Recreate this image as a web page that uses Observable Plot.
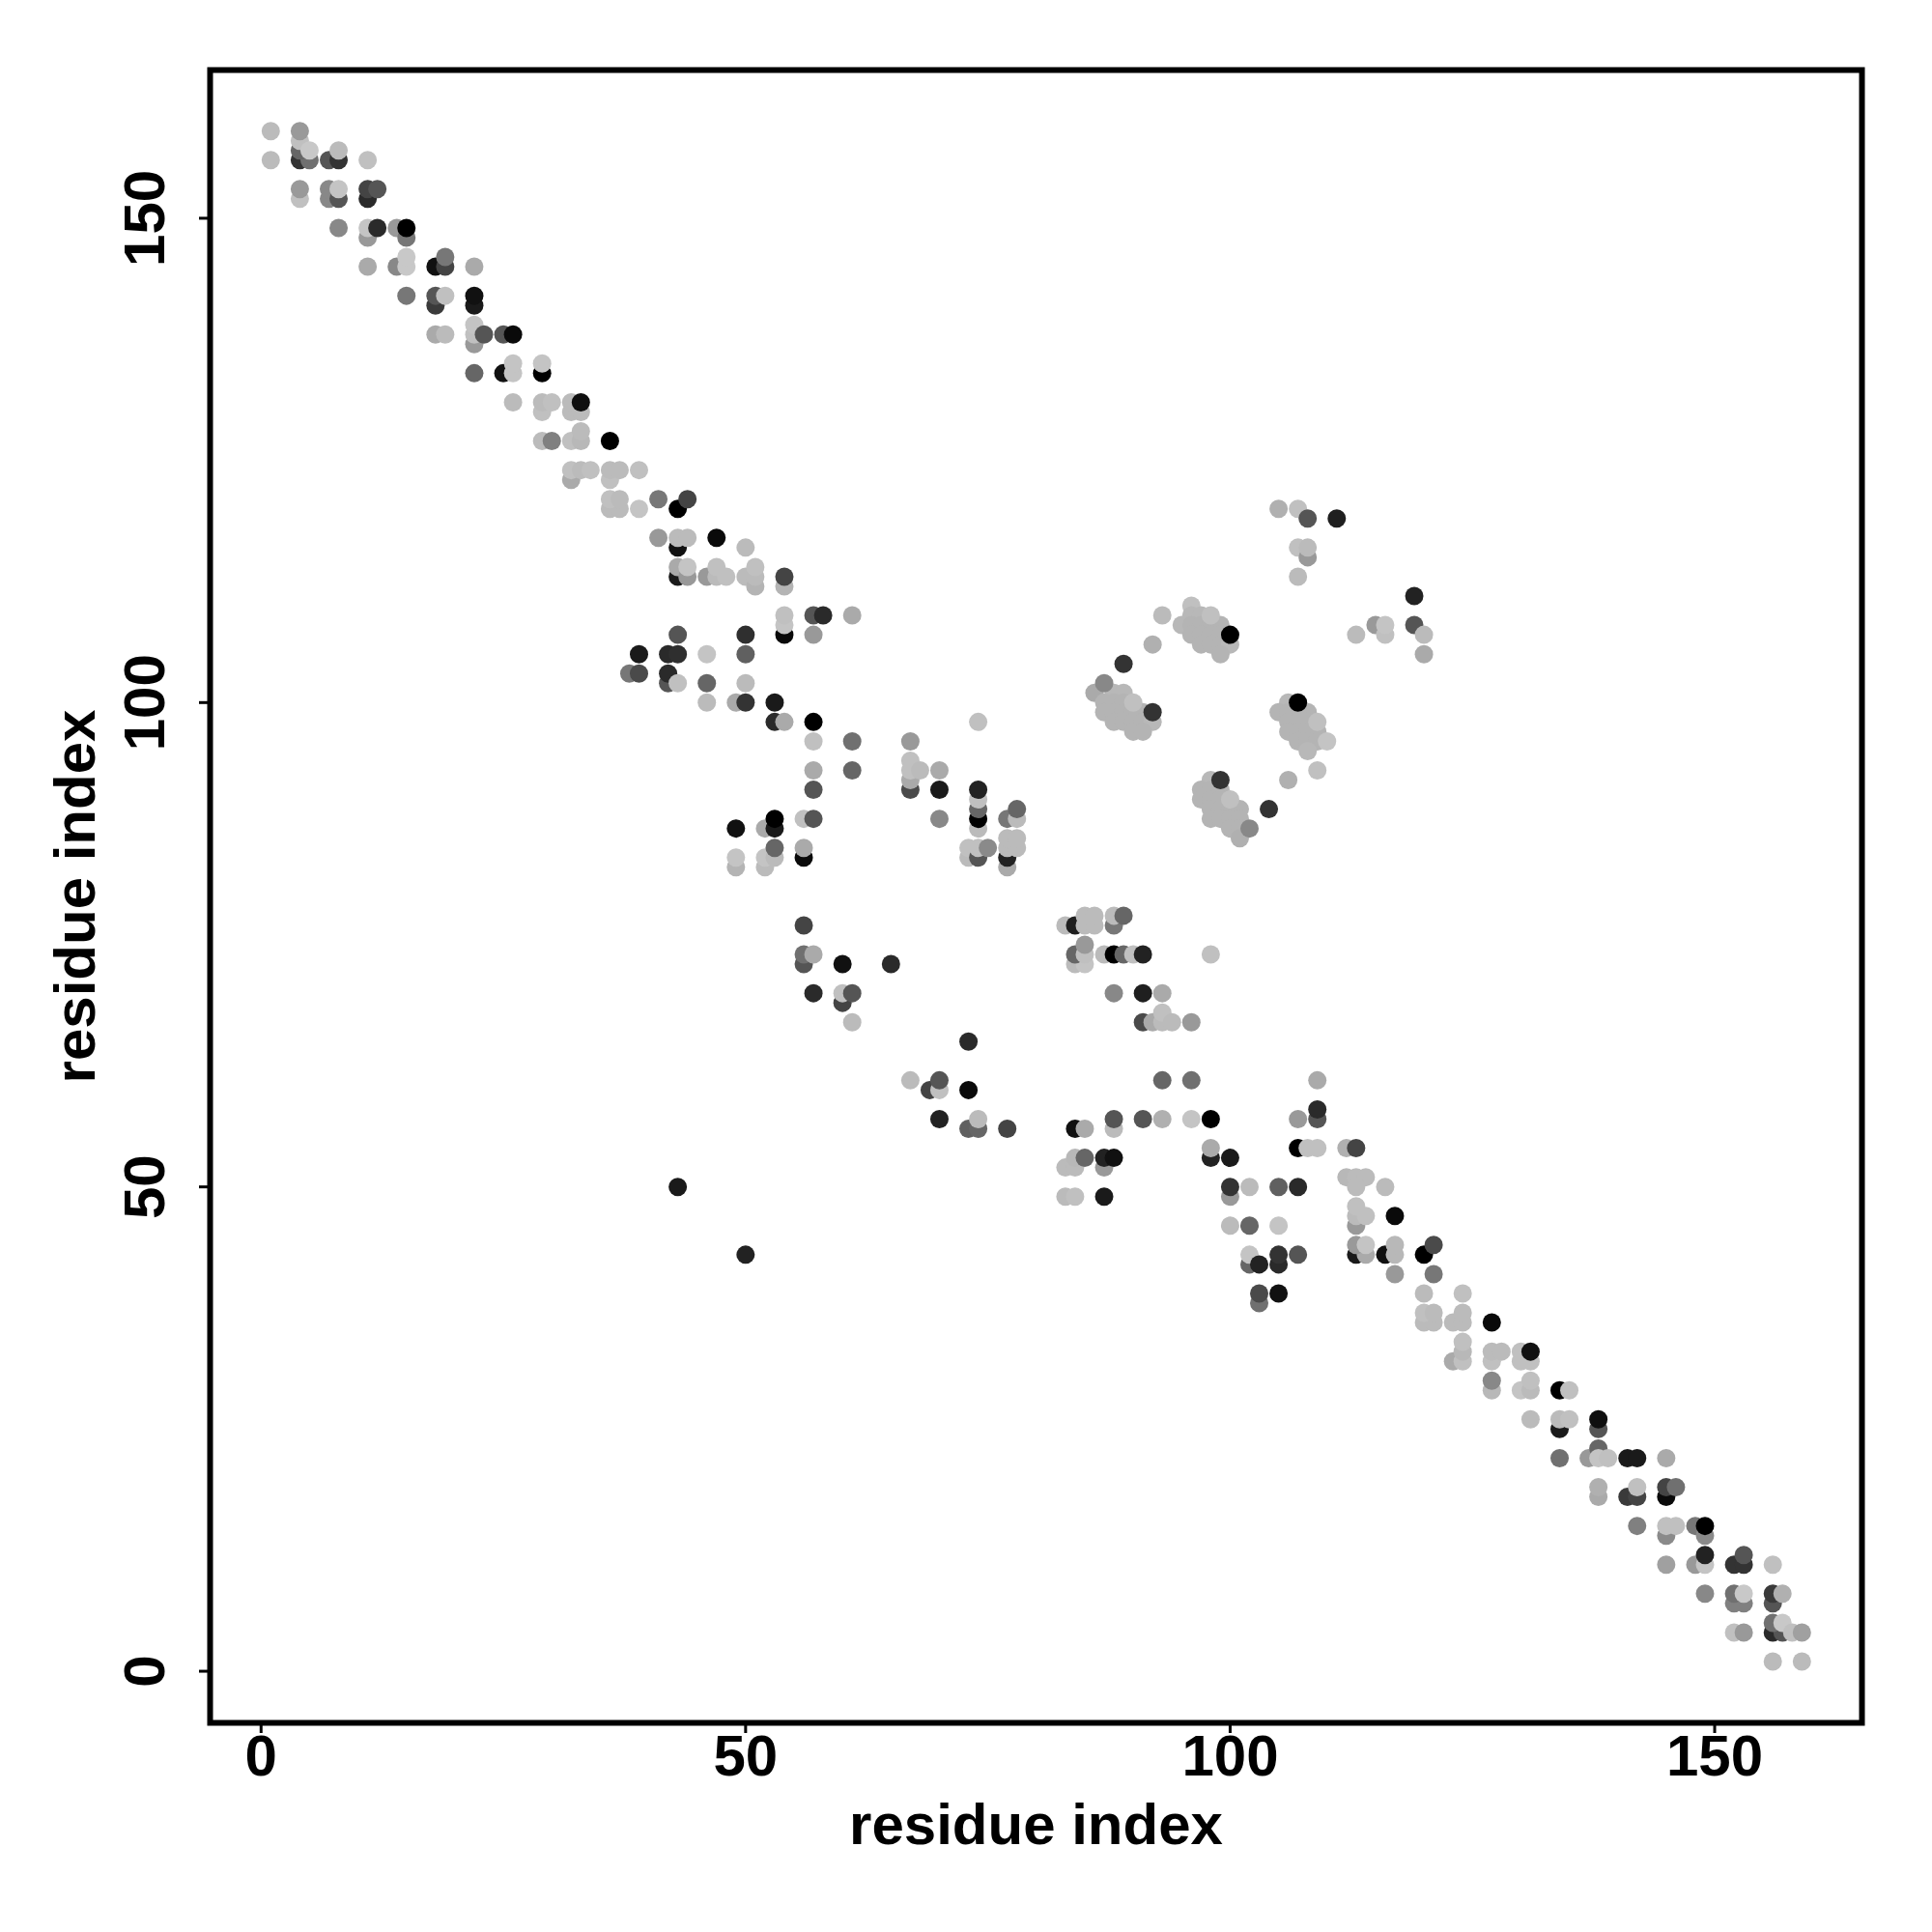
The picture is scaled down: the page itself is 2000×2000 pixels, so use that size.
<!DOCTYPE html>
<html>
<head>
<meta charset="utf-8">
<script src="https://cdn.jsdelivr.net/npm/d3@7"></script>
<script src="https://cdn.jsdelivr.net/npm/@observablehq/plot@0.6"></script>
<style>html,body{margin:0;padding:0;background:#fff}svg{display:block}</style>
</head>
<body>
<div id="chart"></div>
<script>
// each contact: [residue i, residue j, grey level 0-255]; later entries paint on top
const upperDiagonal = [
[1,159,187],[1,156,187],[4,156,51],[5,156,112],[4,157,102],[4,158,192],[4,159,153],[5,157,200],[7,156,85],[8,156,51],[8,157,187],[11,156,192],
[4,152,192],[4,153,153],[7,152,136],[7,153,136],[8,152,85],[8,153,196],[11,152,42],[11,153,68],[12,153,85],
[8,149,136],[11,148,153],[11,149,196],[12,149,42],[14,149,153],[15,148,119],[15,149,0],
[11,145,170],[14,145,136],[15,145,200],[15,146,200],[18,145,17],[19,145,68],[19,146,119],[22,145,170],
[15,142,119],[18,141,58],[18,142,85],[19,142,192],[22,141,26],[22,142,17],
[18,138,170],[19,138,187],[22,137,153],[22,138,192],[22,139,196],[23,138,85],[25,138,85],[26,138,10],
[22,134,102],[25,134,17],[26,134,196],[26,135,196],[29,134,0],[29,135,196],
[26,131,187],[29,130,192],[29,131,187],[30,131,192],[32,130,187],[32,131,187],[33,130,187],[33,131,15],
[29,127,187],[30,127,128],[32,127,192],[33,127,184],[33,128,187],[36,127,0],
[32,123,170],[32,124,192],[33,124,187],[34,124,192],[36,123,192],[36,124,187],[37,124,187],[39,124,192],
[36,120,187],[37,120,187],[36,121,192],[37,121,187],[39,120,196],[41,121,119],[43,120,0],[44,121,68]
];
const upperMiddle = [
[41,117,153],[43,116,17],[43,117,187],[44,117,187],[47,117,10],[50,116,187],
[43,113,26],[43,114,170],[44,113,153],[44,114,196],[46,113,153],[47,113,187],[47,114,192],[48,113,192],[50,113,187],[51,112,180],[51,113,187],[51,114,192],[54,112,180],[54,113,68],
[54,107,10],[54,108,196],[54,109,192],[57,107,153],[57,109,85],[58,109,42],[61,109,170],
[43,107,85],[50,107,47],[39,105,26],[42,105,42],[43,105,47],[46,105,196],[50,105,96],
[38,103,119],[39,103,74],[42,102,85],[42,103,42],[43,102,192],[46,102,102],[50,102,187],
[46,100,187],[49,100,170],[50,100,51],[53,100,26],[53,98,42],[54,98,170],[57,98,0],
[57,96,192],[61,96,112],[67,96,153],[57,93,170],[61,93,102],[57,91,85],
[67,91,74],[67,92,170],[67,93,192],[67,94,192],[68,93,187],[70,93,170],[70,91,26],[70,88,136],
[74,87,187],[74,88,0],[74,89,102],[74,90,192],[74,91,34],
[77,88,119],[78,88,187],[78,89,102],[77,83,170],[77,84,34],[77,85,187],[78,85,187],[77,86,187],[78,86,187],
[73,84,187],[73,85,192],[74,84,85],[74,85,192],[75,85,138],
[49,83,180],[49,84,196],[52,83,187],[52,84,196],[53,84,187],[53,85,102],[56,84,10],[56,85,170],
[49,87,17],[52,87,170],[53,87,26],[53,88,0],[56,88,192],[57,88,85],[74,98,192]
];
const offDiagonalLow = [
[56,77,68],[56,73,85],[56,74,112],[57,74,170],[60,73,17],[65,73,42],[57,70,42],[60,69,68],[60,70,192],[61,70,85],[61,67,187],[73,65,42],
[67,61,187],[69,60,68],[70,60,192],[70,61,85],[73,60,10],[70,57,34],[73,56,96],[74,56,102],[74,57,187],[77,56,68],[43,50,26],[50,43,34]
];
const centreBand = [
[83,77,187],[84,77,31],[85,77,187],[86,77,187],[85,78,187],[86,78,187],[88,77,119],[88,78,187],[89,78,102],
[84,73,187],[85,73,196],[84,74,102],[85,74,192],[85,75,153],
[87,74,187],[88,74,0],[89,74,102],[90,74,192],[91,74,34],[98,74,192],
[88,70,136],[91,70,31],[93,70,170],[91,67,74],[92,67,170],[93,67,187],[93,68,192],[94,67,187],[96,67,153],
[93,61,102],[96,61,112],[109,61,170],
[84,56,17],[85,56,170],[88,56,187],[88,57,85],[91,57,85],[93,57,176],[96,57,196],[98,57,0],
[107,57,153],[109,57,85],[109,58,42],[107,54,0],[108,54,192],[109,54,192],[112,54,176],[113,54,68],
[83,52,187],[84,52,187],[87,52,153],[84,53,184],[85,53,102],[87,53,34],[88,53,17],
[98,53,34],[98,54,170],[100,53,26],
[83,49,187],[84,49,192],[87,49,26],[100,49,153],[100,50,51],[102,50,187],[105,50,96],[107,50,42]
];
const lowerDiagonal = [
[112,51,184],[113,51,187],[114,51,187],[113,50,187],[116,50,187],
[113,46,153],[113,47,187],[113,48,192],[114,47,192],[117,47,10],
[100,46,187],[102,46,102],[105,46,196],
[113,43,26],[114,43,170],[113,44,153],[114,44,196],[116,43,17],[117,43,184],[117,44,184],[117,41,153],
[102,42,102],[102,43,196],[103,42,34],[105,42,42],[105,43,51],[107,43,85],
[103,38,112],[103,39,74],[105,39,17],
[120,43,0],[121,44,74],[121,41,119],[120,39,187],[124,39,192],
[120,36,187],[121,36,187],[120,37,192],[121,37,187],[123,36,187],[124,36,187],[124,37,187],[127,36,10],
[123,32,170],[124,32,192],[124,33,184],[124,34,192],
[127,32,192],[127,33,187],[128,33,187],[130,32,192],[131,32,192],[130,33,192],[131,33,17],
[127,29,184],[127,30,136],[130,29,196],[131,29,187],[131,30,192],[134,29,0],[135,29,192],
[131,26,187],[134,25,26],[134,26,187],[135,26,192],[138,25,85],[138,26,15],
[134,22,112],[137,22,153],[138,23,102],[138,22,196],[139,22,192],[141,22,26],[142,22,26],[145,22,170],
[138,18,170],[138,19,176],[141,18,58],[142,18,68],[142,19,192],[145,18,10],[145,19,68],[146,19,112],
[142,15,128],[145,14,138],[145,15,192],[146,15,192],[148,15,119],[149,14,138],[149,15,0],
[145,11,160],[148,11,153],[149,11,196],[149,12,34],[152,11,51],[153,11,51],[153,12,85],[156,11,192],
[149,8,136],[152,7,128],[153,7,128],[152,8,112],[153,8,200],[156,7,85],[156,8,58],[157,8,176],
[152,4,192],[153,4,153],[156,4,42],[157,4,85],[156,5,112],[157,5,200],[158,4,192],[159,4,160],
[156,1,187],[159,1,187]
];
const sheetUpper = [
[105,120,176],[107,120,192],[108,119,85],[111,119,31],[107,116,192],[108,115,153],[108,116,187],[107,113,187],
[113,107,187],[115,108,153],[116,107,192],[116,108,196],[119,111,34],[119,108,85],[120,107,187],[120,105,170],
[92,106,176],[93,109,187],[89,104,51]
];
const clusterTop = [
[96,110,192],[96,109,184],[97,109,184],[95,108,184],[96,108,180],[97,108,180],[98,108,180],[99,108,180],
[96,107,180],[97,107,180],[98,107,180],[99,107,180],[97,106,180],[98,106,180],[99,106,180],[100,106,184],[99,105,180],
[98,109,192],[100,107,0]
];
const clusterLeft = [
[86,101,170],[88,101,184],[89,101,184],[87,100,180],[88,100,180],[89,100,180],
[87,99,180],[88,99,180],[89,99,180],[90,99,180],[91,99,180],
[88,98,180],[89,98,180],[90,98,180],[91,98,180],[92,98,184],[90,97,180],[91,97,180],
[90,100,192],[87,102,136],[92,99,51]
];
const clusterRight = [
[106,100,184],[105,99,180],[106,99,180],[107,99,180],[108,99,180],
[106,98,180],[107,98,180],[108,98,180],[106,97,180],[107,97,180],[108,97,180],[109,97,180],
[107,96,180],[108,96,180],[109,96,180],[108,95,184],[109,98,192],[110,96,196],[109,93,192],[106,92,176],[107,100,0]
];
const clusterLow = [
[98,92,184],[97,91,180],[98,91,180],[99,91,180],[97,90,180],[98,90,180],[99,90,180],
[98,89,180],[99,89,180],[100,89,180],[101,89,180],[98,88,180],[99,88,180],[100,88,180],[101,88,180],
[100,87,180],[101,87,180],[101,86,176],[100,90,192],[99,92,51],[102,87,136],[104,89,51]
];

const xTicks = [0, 50, 100, 150];
const yTicks = [0, 50, 100, 150];
const axisTitle = "residue index";

const contacts = [upperDiagonal, upperMiddle, offDiagonalLow, centreBand, lowerDiagonal,
                  sheetUpper, clusterTop, clusterLeft, clusterRight, clusterLow]
  .flat().map(([i, j, grey]) => ({i, j, grey}));

const font = "'Liberation Sans', Arial, Helvetica, sans-serif";

const chart = Plot.plot({
  width: 2000,
  height: 2000,
  marginTop: 72,
  marginRight: 73,
  marginBottom: 217,
  marginLeft: 217,
  style: {background: "#fff", fontFamily: font, fontWeight: "bold", color: "#000"},
  x: {domain: [-5.26, 165.2], ticks: xTicks},
  y: {domain: [-5.33, 165.3], ticks: yTicks},
  marks: [
    Plot.dot(contacts, {
      x: "i", y: "j", r: 9.5,
      fill: d => d3.rgb(d.grey, d.grey, d.grey).formatHex(),
      stroke: "none"
    }),
    Plot.frame({stroke: "#000", strokeWidth: 6}),
    Plot.axisX({
      ticks: xTicks, tickSize: 11, tickPadding: 1, strokeWidth: 3,
      fontSize: 60, fontWeight: "bold", tickFormat: d => String(d),
      label: axisTitle, labelAnchor: "center", labelArrow: "none", labelOffset: 125
    }),
    Plot.axisY({
      ticks: yTicks, tickSize: 11, tickPadding: 37, strokeWidth: 3,
      fontSize: 60, fontWeight: "bold", tickRotate: -90, tickFormat: d => String(d),
      label: axisTitle, labelAnchor: "center", labelArrow: "none", labelOffset: 162
    })
  ]
});
document.getElementById("chart").appendChild(chart);
</script>
</body>
</html>
